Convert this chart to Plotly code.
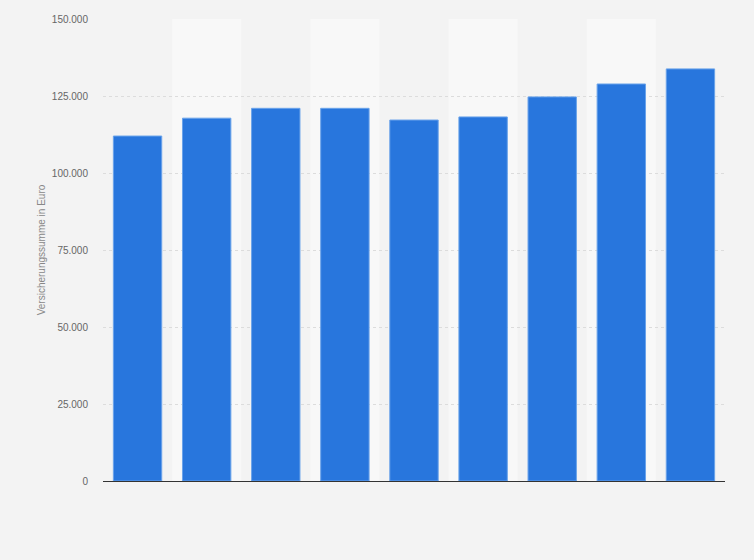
import plotly.graph_objects as go

# Versicherungssumme je Jahr
jahre = ["2012", "2013", "2014", "2015", "2016", "2017", "2018", "2019", "2020"]
summe = [112000, 117800, 121000, 121000, 117200, 118200, 124700, 128900, 133800]

y_ticks = [0, 25000, 50000, 75000, 100000, 125000, 150000]

fig = go.Figure()
fig.add_trace(go.Bar(
    x=list(range(len(jahre))),
    y=summe,
    customdata=jahre,
    marker_color="#2876dd",
    marker_line_color="#6aa3ea",
    marker_line_width=1,
    hovertemplate="%{customdata}: %{y:,}<extra></extra>",
))

# helle Streifen hinter jeder zweiten Kategorie
for i in range(1, len(jahre), 2):
    fig.add_shape(type="rect", xref="x", yref="paper",
                  x0=i - 0.5, x1=i + 0.5, y0=0, y1=1,
                  fillcolor="#f8f8f8", line_width=0, layer="below")

fig.update_layout(
    width=754, height=560,
    margin=dict(l=103, r=29, t=19, b=79),
    paper_bgcolor="#f3f3f3",
    plot_bgcolor="#f3f3f3",
    bargap=0.3,
    separators=",.",
    font=dict(family="Liberation Sans, Arial, sans-serif", color="#666666", size=10),
    showlegend=False,
)
fig.update_xaxes(
    range=[-0.5, len(jahre) - 0.5],
    showticklabels=False, showgrid=False, zeroline=False,
    showline=True, linecolor="#333333", linewidth=1,
)
fig.update_yaxes(
    range=[0, 150000], tickvals=y_ticks, tickformat=",d",
    showgrid=True, gridcolor="#dcdcdc", griddash="dot", gridwidth=1,
    zeroline=False, ticks="", ticklabelstandoff=14,
    title=dict(text="Versicherungssumme in Euro", font=dict(size=10, color="#888888"), standoff=4),
)

# Seitenrand entfernen, damit die Grafik bündig sitzt
fig.write_html("out.html", config={"displayModeBar": False},
               post_script="document.body.style.margin='0';")
